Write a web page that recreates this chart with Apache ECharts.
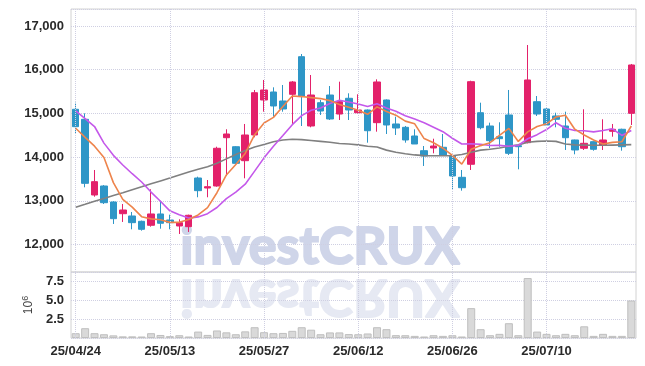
<!DOCTYPE html>
<html><head><meta charset="utf-8">
<script src="https://cdn.jsdelivr.net/npm/echarts@6/dist/echarts.min.js"></script>
<style>html,body{margin:0;padding:0;background:#fff}#c{width:645px;height:366px}</style>
</head><body><div id="c"></div>
<script>
var dates = ['25/04/24','25/04/25','25/04/28','25/04/29','25/04/30','25/05/02','25/05/07','25/05/08','25/05/09','25/05/12',
'25/05/13','25/05/14','25/05/15','25/05/16','25/05/19','25/05/20','25/05/21','25/05/22','25/05/23','25/05/26',
'25/05/27','25/05/28','25/05/29','25/05/30','25/06/02','25/06/04','25/06/05','25/06/09','25/06/10','25/06/11',
'25/06/12','25/06/13','25/06/16','25/06/17','25/06/18','25/06/19','25/06/20','25/06/23','25/06/24','25/06/25',
'25/06/26','25/06/27','25/06/30','25/07/01','25/07/02','25/07/03','25/07/04','25/07/07','25/07/08','25/07/09',
'25/07/10','25/07/11','25/07/14','25/07/15','25/07/16','25/07/17','25/07/18','25/07/21','25/07/22','25/07/23'];
var xTickLabels = ['25/04/24','25/05/13','25/05/27','25/06/12','25/06/26','25/07/10'];
var openP = [15094,14865,13133,13339,12973,12705,12653,12531,12440,12699,12561,12424,12408,13522,13293,13339,14444,14238,13918,14506,
15307,15490,15284,15437,16298,14712,15245,15421,14986,15346,15016,15078,14788,15307,14758,14682,14483,14147,14209,14225,
14032,13538,13836,15016,14712,14467,14964,14261,14330,15268,15101,14941,14712,14392,14202,14353,14277,14591,14637,15002];
var closeP = [14696,13400,13438,12957,12591,12790,12500,12348,12699,12486,12500,12500,12669,13232,13323,14202,14529,13858,14506,15474,
15536,15170,15101,15719,15398,15421,15055,14872,15268,15078,15078,14604,15719,14735,14666,14392,14300,14026,14254,14048,
13568,13300,15726,14673,14376,14422,14087,14238,15765,14986,14735,14865,14444,14163,14316,14179,14392,14637,14238,16108];
var lowP = [14545,13309,13094,12927,12470,12516,12348,12317,12408,12362,12348,12241,12287,13081,13081,13323,13570,13830,13515,14453,
15039,14925,15039,14758,14712,14682,14964,14849,14849,14849,15002,14330,14582,14529,14506,14330,14300,13797,14087,14026,
13248,13232,13705,14637,14202,14238,14048,13721,14314,14941,14712,14682,14163,14064,14163,14147,14163,14467,14147,14735];
var highP = [15245,15002,13705,13360,12990,12927,12744,12546,13264,13003,12683,12577,12683,13552,13476,14238,14637,14250,14758,15536,
15765,15597,15650,15740,16359,15879,15307,15627,15726,15460,15437,15090,15780,15320,14925,14712,14637,14254,14421,14529,
14045,13705,15748,15245,14788,14797,15536,14270,16565,15398,15120,15016,15039,14400,15094,14360,14865,14758,14650,16131];
var ma5 = [14660,14450,14250,13990,13416,13035,12855,12637,12586,12565,12507,12507,12571,12677,12845,13185,13591,13829,14084,14514,
14781,14909,15157,15400,15385,15362,15339,15293,15203,15139,15070,14980,15149,15043,14960,14823,14762,14424,14328,14204,
14039,13839,14179,14263,14329,14499,14657,14359,14578,14700,14762,14918,14959,14639,14505,14393,14299,14337,14352,14711];
var ma10 = [15060,14880,14700,14320,14040,13820,13620,13430,13200,12991,12771,12681,12604,12632,12705,12846,13049,13200,13381,13679,
13983,14250,14493,14742,14949,15071,15124,15225,15301,15262,15216,15159,15221,15123,15050,14947,14871,14787,14685,14582,
14431,14301,14302,14295,14266,14269,14248,14269,14420,14514,14631,14787,14659,14608,14602,14578,14608,14648,14496,14608];
var maLong = [12852,12920,12990,13055,13120,13185,13255,13320,13390,13455,13520,13590,13660,13720,13780,13860,13960,14060,14150,14230,
14290,14350,14390,14410,14400,14380,14360,14340,14310,14300,14280,14250,14230,14160,14110,14075,14050,14035,14030,14030,
14030,14060,14110,14160,14180,14210,14250,14280,14340,14360,14370,14360,14300,14280,14275,14270,14270,14275,14280,14285];
var volume = [0.64,1.3,0.64,0.5,0.35,0.22,0.22,0.2,0.64,0.4,0.25,0.37,0.2,0.85,0.41,1.0,0.75,0.5,0.88,1.43,
0.77,0.64,0.67,0.95,1.43,1.1,0.5,0.74,0.74,0.52,0.5,0.6,1.43,1.17,0.38,0.37,0.28,0.2,0.37,0.28,
0.37,0.2,3.96,1.17,0.37,0.55,1.96,0.37,7.95,0.85,0.55,0.37,0.55,0.37,1.55,0.28,0.55,0.28,0.28,4.97];
var priceTicks = [12000,13000,14000,15000,16000,17000];
var volTicks = [2.5,5.0,7.5];

var candles = dates.map(function(d,i){ return [openP[i], closeP[i], lowP[i], highP[i]]; });
var FONT = "'Liberation Sans',Arial,sans-serif";
var GRIDC = '#cfcfe2';
var gridLine = {show:true, lineStyle:{color:GRIDC, type:'dotted', width:1}};
function vLines(){
  return {silent:true, symbol:['none','none'], animation:false, label:{show:false}, precision:0,
    lineStyle:{color:GRIDC, type:'dotted', width:1},
    emphasis:{disabled:true, lineStyle:{color:GRIDC, width:1}},
    data: xTickLabels.map(function(d){ return {xAxis:d}; })};
}
var chart = echarts.init(document.getElementById('c'), null, {renderer:'canvas'});
chart.setOption({
  animation:false,
  backgroundColor:'#ffffff',
  grid:[
    {left:71, right:9, top:9, height:263, show:true, borderColor:'#d2d2d2', borderWidth:1},
    {left:71, right:9, top:272, height:66, show:true, borderColor:'#d2d2d2', borderWidth:1}
  ],
  xAxis:[
    {type:'category', gridIndex:0, data:dates, boundaryGap:true,
     axisLine:{show:false}, axisTick:{show:false}, axisLabel:{show:false}, splitLine:{show:false}},
    {type:'category', gridIndex:1, data:dates, boundaryGap:true,
     axisLine:{show:false}, axisTick:{show:false},
     axisLabel:{interval:9, margin:7, fontFamily:FONT, fontSize:13, fontWeight:'bold', color:'#2a2a2a'},
     splitLine:{show:false}}
  ],
  yAxis:[
    {type:'value', gridIndex:0, min:11371, max:17389, scale:true,
     axisLine:{show:false}, axisTick:{show:false},
     axisLabel:{showMinLabel:false, showMaxLabel:false, margin:7, fontFamily:FONT, fontSize:13, fontWeight:'bold', color:'#2a2a2a',
       formatter:function(v){ return priceTicks.indexOf(v) >= 0 ? v.toLocaleString('en-US') : ''; }},
     splitLine:gridLine},
    {type:'value', gridIndex:1, min:0, max:8.75, interval:2.5,
     axisLine:{show:false}, axisTick:{show:false},
     name:'{a|10}{b|6}', nameLocation:'middle', nameRotate:90, nameGap:32,
     nameTextStyle:{rich:{a:{fontFamily:FONT, fontSize:12, color:'#444'}, b:{fontFamily:FONT, fontSize:9, color:'#444', verticalAlign:'top', padding:[0,0,7,0]}}},
     axisLabel:{showMinLabel:false, showMaxLabel:false, margin:7, fontFamily:FONT, fontSize:13, fontWeight:'bold', color:'#2a2a2a',
       formatter:function(v){ return volTicks.indexOf(v) >= 0 ? v.toFixed(1) : ''; }},
     splitLine:gridLine}
  ],
  graphic:[
    {type:'text', x:320, y:273, z:0, silent:true,
     style:{text:'investCRUX', font:'bold 52px Lato', fill:'#cfd5e9', stroke:'#cfd5e9', lineWidth:2, align:'center', textAlign:'center', verticalAlign:'bottom', textVerticalAlign:'bottom'}},
    {type:'text', x:320, y:271, scaleY:-1, z:0, silent:true,
     style:{text:'investCRUX', font:'bold 52px Lato', fill:'#e6e9f3', stroke:'#e6e9f3', lineWidth:2, align:'center', textAlign:'center', verticalAlign:'bottom', textVerticalAlign:'bottom'}}
  ],
  series:[
    {type:'candlestick', xAxisIndex:0, yAxisIndex:0, data:candles, barWidth:7, z:3,
     itemStyle:{color:'#e3216a', color0:'#2e96c7', borderColor:'#e3216a', borderColor0:'#2e96c7', borderWidth:1}},
    {type:'line', xAxisIndex:0, yAxisIndex:0, data:maLong, symbol:'none', z:4, lineStyle:{color:'#808080', width:1.6}, markLine:vLines()},
    {type:'line', xAxisIndex:0, yAxisIndex:0, data:ma10, symbol:'none', z:4, lineStyle:{color:'#c458ea', width:1.6}},
    {type:'line', xAxisIndex:0, yAxisIndex:0, data:ma5, symbol:'none', z:4, lineStyle:{color:'#ee844c', width:1.6}},
    {type:'bar', xAxisIndex:1, yAxisIndex:1, data:volume, barWidth:8, z:3,
     itemStyle:{color:'#d9d9d9', borderColor:'#bfbfbf', borderWidth:1}, markLine:vLines()}
  ]
});
</script></body></html>
